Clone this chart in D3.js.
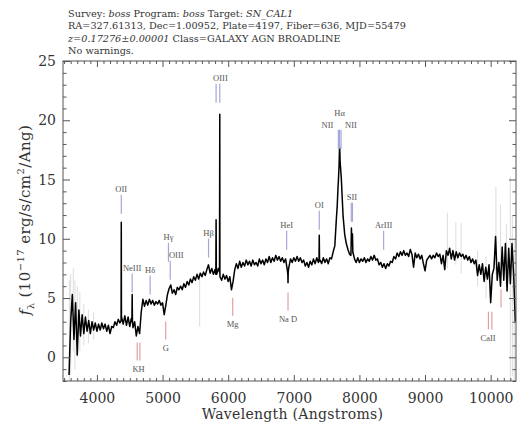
<!DOCTYPE html>
<html><head><meta charset="utf-8">
<script src="https://cdn.jsdelivr.net/npm/d3@7"></script>
<style>body{margin:0;background:#fff}svg{display:block}</style>
</head><body>
<script>
// ---------- DATA ----------
const titleLines = [
  [["Survey: ",0],["boss",1],[" Program: ",0],["boss",1],[" Target:  ",0],["SN_CAL1",1]],
  [["RA=327.61313, Dec=1.00952, Plate=4197, Fiber=636, MJD=55479",0]],
  [["z=0.17276±0.00001",1],[" Class=GALAXY AGN BROADLINE",0]],
  [["No warnings.",0]]
];
const xTickValues = [4000,5000,6000,7000,8000,9000,10000];
const yTickValues = [0,5,10,15,20,25];
const xDomain = [3483, 10386];
const yDomain = [-2, 25];

// flux sampled every 25 Angstrom from 3575 A
const fluxStart = 3575, fluxStep = 25;
const flux = [
 -1.5,3.0,5.3,1.5,4.6,0.2,4.0,1.8,3.6,2.0,3.4,2.2,3.1,2.0,3.0,2.3,2.9,2.2,2.8,2.3,
 2.9,2.4,2.8,2.2,2.7,2.0,2.6,2.5,3.0,2.7,3.2,2.9,3.4,2.8,3.5,2.7,3.4,2.6,3.3,2.5,
 3.0,1.8,2.6,2.0,3.8,4.9,4.3,4.8,4.4,4.9,4.5,4.8,4.4,4.7,4.5,4.8,4.4,4.6,3.6,4.4,
 5.3,5.8,6.1,5.4,5.7,5.3,5.9,5.7,6.0,5.7,6.2,5.9,6.4,6.1,6.6,6.3,6.8,6.5,7.0,6.6,
 7.1,6.8,7.2,6.9,7.4,7.8,7.1,7.5,7.0,7.4,7.0,7.5,6.8,6.5,7.0,6.6,6.9,6.4,6.8,5.7,
 6.4,7.4,7.9,7.5,8.1,7.6,8.0,7.7,8.2,7.8,8.1,7.7,8.2,7.8,8.0,7.7,8.3,7.9,8.2,7.8,
 8.3,8.0,8.5,8.0,8.4,8.1,8.6,8.2,8.5,8.1,8.4,8.0,8.3,7.4,7.6,8.3,8.0,8.4,8.1,8.5,
 8.1,8.4,8.0,8.2,7.7,8.0,7.6,8.1,7.8,8.3,7.9,8.4,8.0,8.2,7.9,8.4,8.0,8.3,7.9,8.4,
 8.3,8.9,9.4,11.8,14.5,17.7,15.0,12.0,10.4,9.6,9.1,8.7,9.8,8.8,8.3,8.0,8.4,8.0,8.3,8.1,
 8.4,8.0,8.3,8.1,8.5,8.2,8.6,8.2,8.3,7.8,8.0,7.6,7.9,7.5,7.9,7.7,8.1,8.0,8.5,8.3,
 8.8,8.5,8.9,8.6,9.0,8.6,8.8,8.5,9.1,8.7,7.6,8.8,8.4,8.7,8.3,8.6,7.9,7.3,8.2,8.4,
 8.6,8.3,8.6,8.4,8.8,8.5,8.7,7.9,8.6,7.4,9.0,8.6,9.2,8.3,9.0,8.2,8.9,8.4,8.8,8.5,
 8.7,8.3,8.6,8.2,8.5,8.0,8.3,7.9,8.2,6.9,7.8,7.0,7.9,6.4,7.6,6.6,7.8,4.6,7.0,7.5,
 10.2,6.5,8.0,6.0,9.3,6.5,9.6,5.6,9.2,6.2,9.6,7.0,3.0
];
// narrow emission / absorption features sampled finer
const featureWave = [4368,4371,4374,4533,4537,4541,5812,5816,5820,5868,5872,5874,6909,6912,6915,
  7384,7388,7392,7662,7679,7690,7697,7705,7720,7740,7870,7878,7886,7894,7900];
const featureFlux = [3.1,11.4,3.3,3.0,5.3,3.1,7.0,11.6,7.1,7.2,20.5,7.0,7.0,6.3,7.2,
  8.1,10.3,8.2,12.8,14.8,16.2,17.7,16.6,15.4,13.2,8.6,10.9,9.5,10.4,8.9];

// light grey (noisy pixel) spikes
const grayWave = [3580,3600,3640,3665,3700,3740,3800,3870,3950,5565,9340,9470,9550,9800,9930,10080,10150,10240,10300,10330,10360];
const grayLo   = [-2,-1.5,0.5,-1,0,0.5,1,1.2,1.5,2.6,7.5,7.8,7.1,6.0,5.0,7,6,6,-2,-1.6,-2];
const grayHi   = [6.5,7,7.5,6.5,6,5.5,4.5,4,3.8,7,12.2,11.4,11.3,9,8.5,14.4,12.9,11.2,15.2,12,10];

// line identifications
const emName   = ["OII","NeIII","Hδ","Hγ","OIII","Hβ","OIII","HeI","OI","Hα","SII","ArIII"];
const emWaves  = [[4371],[4537],[4811],[5090],[5117],[5701],[5816,5872],[6891],[7388],[7679,7697,7720],[7876,7894],[8369]];
const emAnchor = [12.12,5.46,5.29,8.07,6.55,8.41,21.48,9.08,10.77,17.6,11.44,9.08];
const abName   = ["KH","G","Mg","Na D","CaII",""];
const abWaves  = [[4614,4655],[5048],[6069],[6912],[9966,10018],[10158]];
const abAnchor = [1.24,3.01,5.03,5.46,3.85,5.71];

// ---------- DRAW ----------
const W = 524, H = 431;
const L = 63, R = 516, T = 61, B = 381;
const svg = d3.select("body").append("svg").attr("width", W).attr("height", H);
svg.append("rect").attr("width", W).attr("height", H).attr("fill", "#fff");

const x = d3.scaleLinear().domain(xDomain).range([L, R]);
const y = d3.scaleLinear().domain(yDomain).range([B, T]);

// title
const title = svg.append("g").attr("font-family", "DejaVu Serif").attr("font-size", 9.7).attr("fill", "#333");
titleLines.forEach((parts, i) => {
  const t = title.append("text").attr("x", 68).attr("y", 16.5 + i * 12.5);
  parts.forEach(p => t.append("tspan").attr("font-style", p[1] ? "italic" : null).text(p[0]));
});

// clip
svg.append("clipPath").attr("id", "clip").append("rect").attr("x", L).attr("y", T).attr("width", R - L).attr("height", B - T);
const plot = svg.append("g").attr("clip-path", "url(#clip)");

// grey spikes
plot.selectAll("line.gray").data(grayWave).join("line").attr("class", "gray")
  .attr("x1", d => x(d)).attr("x2", d => x(d))
  .attr("y1", (d, i) => y(grayLo[i])).attr("y2", (d, i) => y(grayHi[i]))
  .attr("stroke", "#d4d4d4").attr("stroke-width", 0.8);

// spectrum
const pts = flux.map((f, i) => [fluxStart + i * fluxStep, f])
  .concat(featureWave.map((w, i) => [w, featureFlux[i]]))
  .sort((a, b) => a[0] - b[0]);
plot.append("path").datum(pts)
  .attr("d", d3.line().x(d => x(d[0])).y(d => y(d[1])))
  .attr("fill", "none").attr("stroke", "#000").attr("stroke-width", 1.5).attr("stroke-linejoin", "round");

// line markers
const lab = svg.append("g").attr("font-family", "Liberation Serif").attr("font-size", 8.5).attr("fill", "#555").attr("text-anchor", "middle");
const emLen = 19, abLen = 18;
const nudge = {4: 6, 6: 2.5};
emName.forEach((n, i) => {
  const y0 = y(emAnchor[i]);
  emWaves[i].forEach(w => lab.append("line").attr("x1", x(w)).attr("x2", x(w)).attr("y1", y0).attr("y2", y0 - emLen)
    .attr("stroke", "#a3a8d8").attr("stroke-width", 1.2));
  const cx = d3.mean(emWaves[i], w => x(w)) + (nudge[i] || 0);
  if (n === "Hα") {
    lab.append("text").attr("x", cx).attr("y", y0 - emLen - 14).text("Hα");
    lab.append("text").attr("x", x(7679) - 5).attr("y", y0 - emLen - 2).attr("text-anchor", "end").text("NII");
    lab.append("text").attr("x", x(7720) + 4).attr("y", y0 - emLen - 2).attr("text-anchor", "start").text("NII");
  } else {
    lab.append("text").attr("x", cx).attr("y", y0 - emLen - 3).text(n);
  }
});
abName.forEach((n, i) => {
  const y0 = y(abAnchor[i]);
  abWaves[i].forEach(w => lab.append("line").attr("x1", x(w)).attr("x2", x(w)).attr("y1", y0).attr("y2", y0 + abLen)
    .attr("stroke", "#e3a0a0").attr("stroke-width", 1.2));
  const cx = d3.mean(abWaves[i], w => x(w)) + (i === 4 ? -2 : 0);
  if (n) lab.append("text").attr("x", cx).attr("y", y0 + abLen + 11).text(n);
});

// axes
const xMinor = d3.range(3500, 10400, 100).filter(v => v % 1000 !== 0);
const yMinor = d3.range(-2, 25, 1).filter(v => v % 5 !== 0);
function styleAxis(g) {
  g.select(".domain").remove();
  g.selectAll(".tick line").attr("stroke", "#555");
  g.selectAll(".tick text").attr("font-family", "DejaVu Serif").attr("font-size", 14).attr("fill", "#333");
}
const ax = svg.append("g");
ax.append("g").attr("transform", `translate(0,${B})`).call(d3.axisBottom(x).tickValues(xTickValues).tickSize(-6).tickPadding(12).tickFormat(d3.format("d"))).call(styleAxis);
ax.append("g").attr("transform", `translate(0,${B})`).call(d3.axisBottom(x).tickValues(xMinor).tickSize(-3).tickFormat("")).call(styleAxis);
ax.append("g").attr("transform", `translate(0,${T})`).call(d3.axisTop(x).tickValues(xTickValues).tickSize(-6).tickFormat("")).call(styleAxis);
ax.append("g").attr("transform", `translate(0,${T})`).call(d3.axisTop(x).tickValues(xMinor).tickSize(-3).tickFormat("")).call(styleAxis);
ax.append("g").attr("transform", `translate(${L},0)`).call(d3.axisLeft(y).tickValues(yTickValues).tickSize(-7).tickPadding(7)).call(styleAxis);
ax.append("g").attr("transform", `translate(${L},0)`).call(d3.axisLeft(y).tickValues(yMinor).tickSize(-3.5).tickFormat("")).call(styleAxis);
ax.append("g").attr("transform", `translate(${R},0)`).call(d3.axisRight(y).tickValues(yTickValues).tickSize(-7).tickFormat("")).call(styleAxis);
ax.append("g").attr("transform", `translate(${R},0)`).call(d3.axisRight(y).tickValues(yMinor).tickSize(-3.5).tickFormat("")).call(styleAxis);
svg.append("rect").attr("x", L).attr("y", T).attr("width", R - L).attr("height", B - T)
  .attr("fill", "none").attr("stroke", "#555").attr("stroke-width", 1);

// axis titles
svg.append("text").attr("x", (L + R) / 2 + 3).attr("y", 419).attr("text-anchor", "middle")
  .attr("font-family", "DejaVu Serif").attr("font-size", 14).attr("fill", "#333").attr("letter-spacing", 0.3)
  .text("Wavelength (Angstroms)");
const yl = svg.append("text").attr("transform", "translate(30,220) rotate(-90)").attr("text-anchor", "middle")
  .attr("font-family", "DejaVu Serif").attr("font-size", 15).attr("fill", "#333").attr("letter-spacing", 0.4);
yl.append("tspan").attr("font-style", "italic").text("f");
yl.append("tspan").attr("font-size", 10).attr("dy", 4).text("λ");
yl.append("tspan").attr("dy", -4).text(" (10");
yl.append("tspan").attr("font-size", 10).attr("dy", -6).text("−17");
yl.append("tspan").attr("dy", 6).text(" erg/s/cm");
yl.append("tspan").attr("font-size", 10).attr("dy", -6).text("2");
yl.append("tspan").attr("dy", 6).text("/Ang)");
</script>
</body></html>
